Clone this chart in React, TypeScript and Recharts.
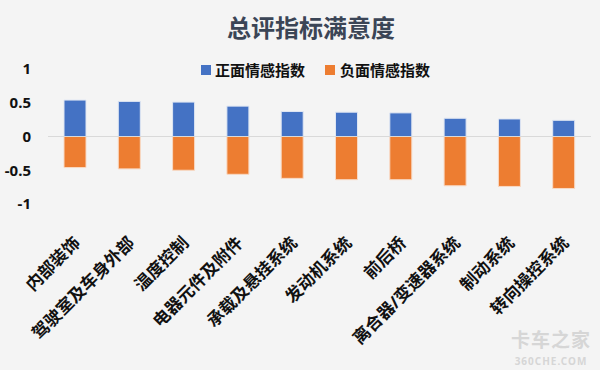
import { BarChart, Bar, XAxis, YAxis, CartesianGrid, ReferenceLine } from 'recharts';

const categories = ['内部装饰', '驾驶室及车身外部', '温度控制', '电器元件及附件', '承载及悬挂系统', '发动机系统', '前后桥', '离合器/变速器系统', '制动系统', '转向操控系统'];
const positive = [0.54, 0.52, 0.51, 0.45, 0.37, 0.36, 0.35, 0.27, 0.26, 0.24];
const negative = [-0.46, -0.48, -0.5, -0.56, -0.62, -0.64, -0.64, -0.73, -0.74, -0.77];
const yTicks = [-1, -0.5, 0, 0.5, 1];

const data = categories.map((name, i) => ({ name, pos: positive[i], neg: negative[i] }));

const FONT = "'Noto Sans', 'Noto Sans CJK SC', sans-serif";
const BLUE = '#4472C4';
const ORANGE = '#ED7D31';

const AngledTick = (props: any) => {
    const { x, y, payload } = props;
    return (
        <g transform={`translate(${x + 6},${y + 40})`}>
            <text
                transform="rotate(-45)"
                textAnchor="end"
                fontSize={17}
                fontWeight="bold"
                fontFamily={FONT}
                fill="#111"
            >
                {payload.value}
            </text>
        </g>
    );
};

const LegendRow = () => (
    <div
        style={{
            position: 'absolute',
            top: 60,
            left: 201,
            display: 'flex',
            alignItems: 'center',
            fontFamily: FONT,
            fontWeight: 'bold',
            fontSize: 15,
            color: '#111',
            lineHeight: '20px'
        }}
    >
        <span style={{ width: 10, height: 10, background: BLUE, display: 'inline-block', marginRight: 4 }} />
        <span>正面情感指数</span>
        <span style={{ width: 10, height: 10, background: ORANGE, display: 'inline-block', marginLeft: 20, marginRight: 5 }} />
        <span>负面情感指数</span>
    </div>
);

export default function App() {
    return (
        <div style={{ position: 'absolute', left: 0, top: 0, width: 600, height: 370, background: '#f4f4f4', overflow: 'hidden' }}>
            <div
                style={{
                    position: 'absolute',
                    top: 12,
                    left: 22,
                    width: 578,
                    textAlign: 'center',
                    fontFamily: FONT,
                    fontWeight: 'bold',
                    fontSize: 24,
                    color: '#3b4556',
                    lineHeight: '32px'
                }}
            >
                总评指标满意度
            </div>
            <LegendRow />
            <BarChart
                width={600}
                height={370}
                data={data}
                stackOffset="sign"
                margin={{ top: 69, right: 9, left: 0, bottom: 0 }}
            >
                <CartesianGrid horizontal={false} vertical={false} />
                <XAxis
                    dataKey="name"
                    interval={0}
                    height={166}
                    axisLine={false}
                    tickLine={false}
                    tickSize={0}
                    tickMargin={0}
                    tick={<AngledTick />}
                />
                <YAxis
                    type="number"
                    domain={[-1, 1]}
                    ticks={yTicks}
                    width={48}
                    axisLine={false}
                    tickLine={false}
                    tickSize={0}
                    tickMargin={17}
                    tick={{ fontSize: 15, fontWeight: 'bold', fontFamily: FONT, fill: '#111' }}
                />
                <ReferenceLine y={0} stroke="#d9d9d9" strokeWidth={1} />
                <Bar dataKey="pos" name="正面情感指数" stackId="a" fill={BLUE} stroke="#dfe6f3" strokeWidth={1} barSize={22} isAnimationActive={false} />
                <Bar dataKey="neg" name="负面情感指数" stackId="a" fill={ORANGE} stroke="#f8d9c4" strokeWidth={1} barSize={22} isAnimationActive={false} />
            </BarChart>
            <div
                style={{
                    position: 'absolute',
                    left: 508,
                    top: 326,
                    width: 86,
                    textAlign: 'center',
                    fontFamily: FONT,
                    fontWeight: 'bold',
                    color: '#d6d6d6'
                }}
            >
                <div style={{ fontSize: 19, lineHeight: '28px', letterSpacing: 1 }}>卡车之家</div>
                <div style={{ fontSize: 10, lineHeight: '14px', letterSpacing: 1 }}>360CHE.COM</div>
            </div>
        </div>
    );
}
